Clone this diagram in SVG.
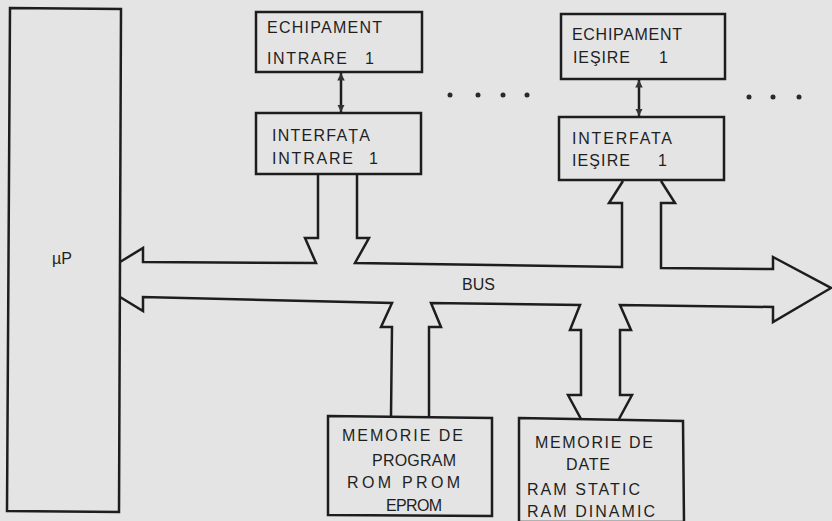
<svg xmlns="http://www.w3.org/2000/svg" width="832" height="521" viewBox="0 0 832 521">
<style>
.bx{fill:none;stroke:#1d1d1d;stroke-width:2.5;stroke-linejoin:miter}
.ln{fill:none;stroke:#1d1d1d;stroke-width:2.5;stroke-linejoin:miter}
.t{font-family:"Liberation Sans",Arial,sans-serif;font-size:16px;fill:#1f1f1f}
.dot{fill:#2a2a2a}
</style>
<defs>
<marker id="ah" viewBox="0 0 10 10" refX="10" refY="5" markerWidth="3" markerHeight="4" orient="auto-start-reverse" markerUnits="strokeWidth">
<path d="M0,0 L10,5 L0,10 z" fill="#333"/>
</marker>
</defs>
<rect width="832" height="521" fill="#e4e4e4"/>
<g id="up">
<polygon class="bx" points="10,8 121,9 119,512 7,511"/>
<text class="t" x="52" y="264">µP</text>
</g>
<g id="echip-intrare">
<rect class="bx" x="256" y="12" width="166" height="60"/>
<text class="t" x="267" y="33" textLength="115" lengthAdjust="spacing">ECHIPAMENT</text>
<text class="t" x="267" y="64"><tspan textLength="80" lengthAdjust="spacing">INTRARE</tspan><tspan x="365">1</tspan></text>
</g>
<g id="interf-intrare">
<rect class="bx" x="256" y="113" width="165" height="61"/>
<text class="t" x="272" y="141" textLength="98" lengthAdjust="spacing">INTERFAȚA</text>
<text class="t" x="272" y="164"><tspan textLength="81" lengthAdjust="spacing">INTRARE</tspan><tspan x="369">1</tspan></text>
</g>
<g id="echip-iesire">
<rect class="bx" x="561" y="14" width="164" height="65"/>
<text class="t" x="572" y="40" textLength="110" lengthAdjust="spacing">ECHIPAMENT</text>
<text class="t" x="573" y="63"><tspan textLength="57" lengthAdjust="spacing">IEŞIRE</tspan><tspan x="659">1</tspan></text>
</g>
<g id="interf-iesire">
<rect class="bx" x="559" y="117" width="165" height="63"/>
<text class="t" x="572" y="144" textLength="100" lengthAdjust="spacing">INTERFATA</text>
<text class="t" x="572" y="166"><tspan textLength="58" lengthAdjust="spacing">IEŞIRE</tspan><tspan x="658">1</tspan></text>
</g>
<g id="mem-program">
<polygon class="bx" points="328,416 492,418 492,516 328,515"/>
<text class="t" x="342" y="441" textLength="121" lengthAdjust="spacing">MEMORIE  DE</text>
<text class="t" x="372" y="466" textLength="84" lengthAdjust="spacing">PROGRAM</text>
<text class="t" x="347" y="488" textLength="113" lengthAdjust="spacing">ROM   PROM</text>
<text class="t" x="386" y="511" textLength="56" lengthAdjust="spacing">EPROM</text>
</g>
<g id="mem-date">
<polygon class="bx" points="519,418 683,421 684,522 519,522"/>
<text class="t" x="535" y="448" textLength="118" lengthAdjust="spacing">MEMORIE  DE</text>
<text class="t" x="566" y="470" textLength="44" lengthAdjust="spacing">DATE</text>
<text class="t" x="527" y="495" textLength="113" lengthAdjust="spacing">RAM  STATIC</text>
<text class="t" x="527" y="517" textLength="128" lengthAdjust="spacing">RAM  DINAMIC</text>
</g>
<g id="connectors">
<line class="ln" x1="341" y1="73" x2="341" y2="112" stroke-width="2" marker-start="url(#ah)" marker-end="url(#ah)"/>
<line class="ln" x1="639" y1="80" x2="639" y2="116" stroke-width="2" marker-start="url(#ah)" marker-end="url(#ah)"/>
<path class="ln" d="M120,262 L143,248 L143,262 L316,263 L305,238 L318,238 L318,174"/>
<path class="ln" d="M357,174 L357,238 L369,238 L355,263 L622,267 L622,203 L609,203 L623,181"/>
<path class="ln" d="M661,181 L675,203 L661,203 L661,268 L773,269 L773,257 L831,288 L773,322 L773,307 L620,305 L631,330 L620,330 L620,395 L632,395 L619,419"/>
<path class="ln" d="M581,419 L568,395 L581,395 L581,330 L570,330 L580,305 L431,303 L441,327 L429,327 L429,417"/>
<path class="ln" d="M391,416 L392,327 L381,327 L392,303 L143,297 L143,311 L120,297"/>
<text class="t" x="462" y="290">BUS</text>
</g>
<g id="dots">
<circle class="dot" cx="450" cy="95" r="2.5"/>
<circle class="dot" cx="478" cy="95" r="2.5"/>
<circle class="dot" cx="503" cy="95" r="2.5"/>
<circle class="dot" cx="527" cy="95" r="2.5"/>
<circle class="dot" cx="749" cy="97" r="2.5"/>
<circle class="dot" cx="773" cy="97" r="2.5"/>
<circle class="dot" cx="799" cy="97" r="2.5"/>
</g>
</svg>
